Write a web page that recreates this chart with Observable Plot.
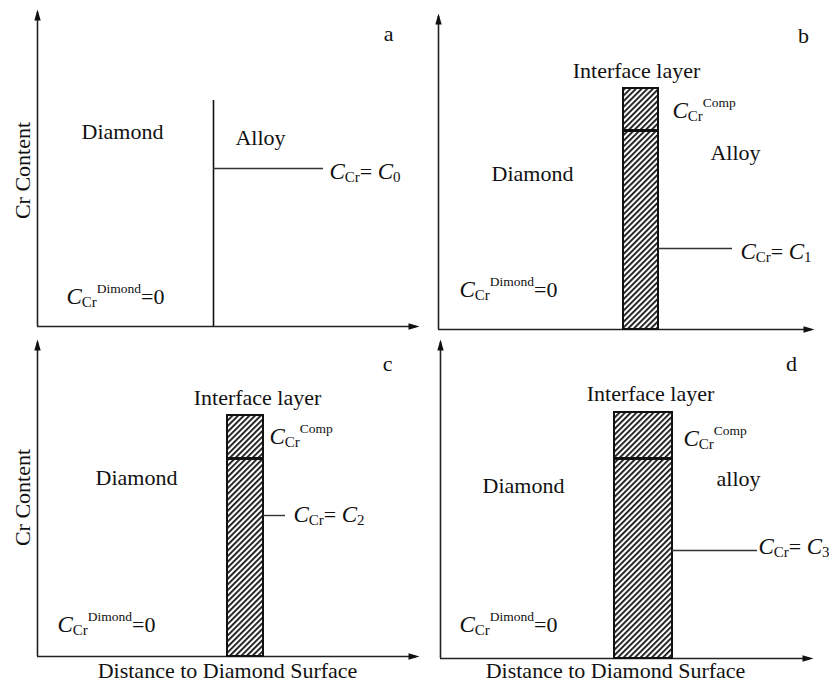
<!DOCTYPE html>
<html><head><meta charset="utf-8">
<script src="https://cdn.jsdelivr.net/npm/d3@7"></script>
<script src="https://cdn.jsdelivr.net/npm/@observablehq/plot@0.6"></script>
<style>
html,body{margin:0;padding:0;background:#fff;}
#root{position:relative;width:829px;height:684px;overflow:hidden;background:#fff;}
.panel{position:absolute;}
</style></head><body><div id="root"></div>
<script>
// ---- schematic data (arbitrary units: distance from diamond surface, Cr content) ----
const panelIds = ["a", "b", "c", "d"];
const axisLengthX = [381, 375, 381, 372];
const axisLengthY = [316, 315, 316, 318];
const layerLeft = [176, 185, 190, 174];
const layerRight = [176, 220, 226, 232];
const layerTop = [226, 241, 241, 246];
const compLevel = [null, 199, 198, 200];
const crLevel = [158, 81, 141, 108];
const crLineEnd = [286, 294, 248, 317];
const crLabels = ["C_{Cr}= C_{0}", "C_{Cr}= C_{1}", "C_{Cr}= C_{2}", "C_{Cr}= C_{3}"];
const alloyLabels = ["Alloy", "Alloy", null, "alloy"];
const diamondLabel = "Diamond";
const interfaceLabel = "Interface layer";
const compLabel = "C_{Cr}^{Comp}";
const zeroLabel = "C_{Cr}^{Dimond}=0";
const yTitle = "Cr Content";
const xTitle = "Distance to Diamond Surface";
const showYTitle = [true, false, true, false];
const showXTitle = [false, false, true, true];

// annotation anchors in the same data units
const diamondPos = [[85, 195], [94, 156], [99, 179], [83, 173]];
const alloyPos = [[223, 189], [297, 177], null, [298, 180]];
const interfacePos = [null, [198, 259], [220, 259], [210, 265]];
const compPos = [null, [234, 219], [232, 220], [243, 220]];
const crLabelPos = [[292, 155], [302, 78], [256, 142], [318, 112]];
const zeroPos = [[29, 30], [21, 40], [20, 32], [19, 34]];
const letterPos = [[351, 293], [365, 294], [350, 293], [351, 295]];
const yTitlePos = [[-15, 156], null, [-15, 159], null];
const xTitlePos = [null, null, [190, -14], [175, -12]];

// ---- layout (pixels) ----
const frames = [
  {left: 0, top: 0, width: 420, height: 340, mL: 37, mT: 10},
  {left: 401, top: 0, width: 428, height: 340, mL: 37, mT: 14},
  {left: 0, top: 330, width: 420, height: 354, mL: 37, mT: 10},
  {left: 401, top: 330, width: 428, height: 354, mL: 39, mT: 10}
];
const FONT = "'Liberation Serif', 'Times New Roman', serif";

const upArrow = {draw(ctx) { ctx.moveTo(0, -1); ctx.lineTo(3.2, 10); ctx.lineTo(-3.2, 10); ctx.closePath(); }};
const rightArrow = {draw(ctx) { ctx.moveTo(1, 0); ctx.lineTo(-10, 3.2); ctx.lineTo(-10, -3.2); ctx.closePath(); }};

const NS = "http://www.w3.org/2000/svg";
function richify(el) {
  const s = el.textContent;
  const parts = s.split(/(_\{[^}]*\}|\^\{[^}]*\})/).filter(p => p !== "");
  el.textContent = "";
  let shift = 0;
  const add = (str, o) => {
    const t = document.createElementNS(NS, "tspan");
    t.textContent = str;
    if (o.italic) t.setAttribute("font-style", "italic");
    if (o.size) t.setAttribute("font-size", o.size);
    const target = o.shift || 0;
    if (target !== shift) { t.setAttribute("dy", target - shift); shift = target; }
    el.appendChild(t);
  };
  parts.forEach((p, i) => {
    if (p.startsWith("_{")) add(p.slice(2, -1), {size: 15, shift: 3});
    else if (p.startsWith("^{")) add(p.slice(2, -1), {size: 13.5, shift: -11});
    else {
      const next = parts[i + 1];
      if (next && next.startsWith("_{")) {
        const head = p.slice(0, -1), last = p.slice(-1);
        if (head) add(head, {shift: 0});
        add(last, {italic: true, size: 23, shift: 0});
      } else add(p, {shift: 0});
    }
  });
}

const root = document.getElementById("root");
panelIds.forEach((id, i) => {
  const f = frames[i];
  const xLen = axisLengthX[i], yLen = axisLengthY[i];
  const mR = f.width - f.mL - xLen;
  const mB = f.height - f.mT - yLen;
  const hatchId = "hatch-" + id;

  const centered = [], leftAligned = [];
  const push = (arr, t, pos) => { if (t && pos) arr.push({t, x: pos[0], y: pos[1]}); };
  push(centered, diamondLabel, diamondPos[i]);
  push(centered, alloyLabels[i], alloyPos[i]);
  if (i > 0) { push(centered, interfaceLabel, interfacePos[i]); push(leftAligned, compLabel, compPos[i]); }
  push(leftAligned, crLabels[i], crLabelPos[i]);
  push(leftAligned, zeroLabel, zeroPos[i]);
  push(centered, id, letterPos[i]);
  if (showXTitle[i]) push(centered, xTitle, xTitlePos[i]);

  const layer = i > 0 ? [{x1: layerLeft[i], x2: layerRight[i], top: layerTop[i]}] : [];
  const textOpts = {x: "x", y: "y", text: "t", fill: "#111", fontSize: 22, fontFamily: FONT};
  const marks = [
    Plot.ruleX([0], {y1: 0, y2: yLen - 2, stroke: "#222", strokeWidth: 1.6}),
    Plot.ruleY([0], {x1: 0, x2: xLen - 2, stroke: "#222", strokeWidth: 1.6}),
    Plot.dot([0], {x: 0, y: yLen, symbol: upArrow, fill: "#111", stroke: null}),
    Plot.dot([0], {x: xLen, y: 0, symbol: rightArrow, fill: "#111", stroke: null}),
    Plot.rect(layer, {x1: "x1", x2: "x2", y1: 0, y2: "top", fill: `url(#${hatchId})`, stroke: "#111", strokeWidth: 2}),
    Plot.ruleY(i > 0 ? [compLevel[i]] : [], {x1: layerLeft[i] - 1, x2: layerRight[i], stroke: "#111", strokeWidth: 3}),
    Plot.ruleX(i === 0 ? [layerLeft[i]] : [], {y1: 0, y2: layerTop[i], stroke: "#111", strokeWidth: 1.6}),
    Plot.ruleY([crLevel[i]], {x1: layerRight[i], x2: crLineEnd[i], stroke: "#333", strokeWidth: 1.4}),
    Plot.text(centered, {...textOpts, textAnchor: "middle"}),
    Plot.text(leftAligned, {...textOpts, textAnchor: "start"})
  ];
  if (showYTitle[i]) marks.push(Plot.text([yTitlePos[i]], {x: d => d[0], y: d => d[1], text: () => yTitle, rotate: -90, fill: "#111", fontSize: 22, fontFamily: FONT}));

  const svg = Plot.plot({
    width: f.width, height: f.height,
    marginLeft: f.mL, marginRight: mR, marginTop: f.mT, marginBottom: mB,
    x: {domain: [0, xLen], axis: null},
    y: {domain: [0, yLen], axis: null},
    style: {background: "transparent", overflow: "visible", fontFamily: FONT, fontSize: "22px", color: "#111"},
    marks
  });
  const defs = d3.select(svg).insert("defs", ":first-child");
  const pat = defs.append("pattern").attr("id", hatchId).attr("patternUnits", "userSpaceOnUse")
    .attr("width", 4).attr("height", 4).attr("patternTransform", "rotate(45)");
  pat.append("rect").attr("width", 4).attr("height", 4).attr("fill", "#fff");
  pat.append("line").attr("x1", 0.9).attr("y1", -1).attr("x2", 0.9).attr("y2", 5).attr("stroke", "#111").attr("stroke-width", 1.8);

  d3.select(svg).selectAll("text").each(function() {
    if (/[_^]\{/.test(this.textContent)) richify(this);
  });

  const div = document.createElement("div");
  div.className = "panel";
  div.style.left = f.left + "px"; div.style.top = f.top + "px";
  div.appendChild(svg);
  root.appendChild(div);
});
</script>
</body></html>
